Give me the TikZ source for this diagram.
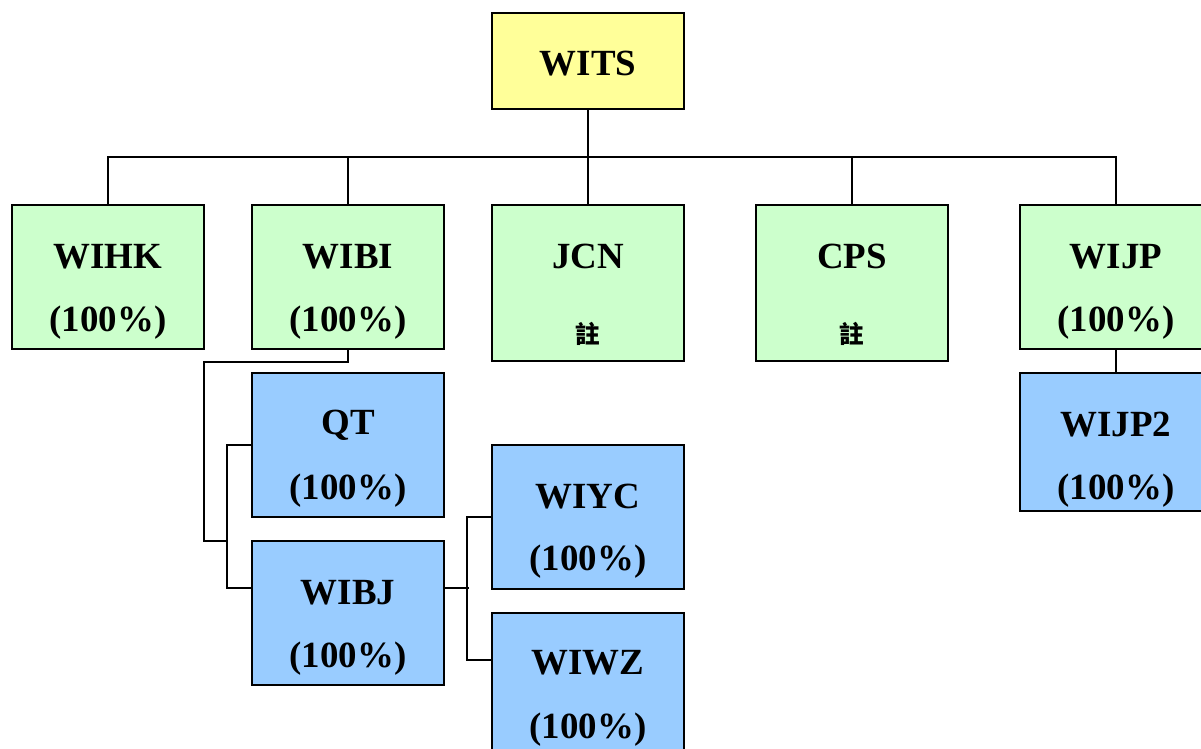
\documentclass[tikz,border=0pt]{standalone}
\usepackage{fontspec}
\setmainfont{Liberation Serif}
\newfontfamily\cjk{Noto Sans CJK TC}
\usetikzlibrary{calc}
\definecolor{topyellow}{HTML}{FFFF99}
\definecolor{subgreen}{HTML}{CCFFCC}
\definecolor{subblue}{HTML}{99CCFF}
\begin{document}
\begin{tikzpicture}[x=0.02cm, y=-0.02cm,
    box/.style={draw, line width=1.2pt, minimum width=3.84cm, minimum height=2.88cm, inner sep=0pt},
    co/.style={font=\bfseries\fontsize{21}{25}\selectfont, inner sep=0pt},
    note/.style={font=\cjk\bfseries\fontsize{14}{16}\selectfont, inner sep=0pt},
    link/.style={line width=1pt}]
            \useasboundingbox (0,0) rectangle (1201,749);
            \clip (0,0) rectangle (1201,749);
            % top
            \node[box, fill=topyellow, minimum height=1.92cm] (WITS) at (588,61) {};
            \node[co] (WITSn) at ($(WITS.north)+(0,52)$) {WITS};
            % second row
            \node[box, fill=subgreen] (WIHK) at (108,277) {};
            \node[co] (WIHKn) at ($(WIHK.north)+(0,53)$) {WIHK};
            \node[co] (WIHKp) at ($(WIHK.north)+(0,119)$) {(100\%)};
            \node[box, fill=subgreen] (WIBI) at (348,277) {};
            \node[co] (WIBIn) at ($(WIBI.north)+(0,53)$) {WIBI};
            \node[co] (WIBIp) at ($(WIBI.north)+(0,119)$) {(100\%)};
            \node[box, fill=subgreen, minimum height=3.12cm] (JCN) at (588,283) {};
            \node[co] (JCNn) at ($(JCN.north)+(0,53)$) {JCN};
            \node[note] (JCNp) at ($(JCN.north)+(0,130)$) {註};
            \node[box, fill=subgreen, minimum height=3.12cm] (CPS) at (852,283) {};
            \node[co] (CPSn) at ($(CPS.north)+(0,53)$) {CPS};
            \node[note] (CPSp) at ($(CPS.north)+(0,130)$) {註};
            \node[box, fill=subgreen] (WIJP) at (1116,277) {};
            \node[co] (WIJPn) at ($(WIJP.north)+(0,53)$) {WIJP};
            \node[co] (WIJPp) at ($(WIJP.north)+(0,119)$) {(100\%)};
            % third level
            \node[box, fill=subblue, minimum height=2.76cm] (WIJP2) at (1116,442) {};
            \node[co] (WIJP2n) at ($(WIJP2.north)+(0,53)$) {WIJP2};
            \node[co] (WIJP2p) at ($(WIJP2.north)+(0,119)$) {(100\%)};
            \node[box, fill=subblue] (QT) at (348,445) {};
            \node[co] (QTn) at ($(QT.north)+(0,53)$) {QT};
            \node[co] (QTp) at ($(QT.north)+(0,119)$) {(100\%)};
            \node[box, fill=subblue] (WIBJ) at (348,613) {};
            \node[co] (WIBJn) at ($(WIBJ.north)+(0,53)$) {WIBJ};
            \node[co] (WIBJp) at ($(WIBJ.north)+(0,119)$) {(100\%)};
            \node[box, fill=subblue] (WIYC) at (588,517) {};
            \node[co] (WIYCn) at ($(WIYC.north)+(0,53)$) {WIYC};
            \node[co] (WIYCp) at ($(WIYC.north)+(0,118)$) {(100\%)};
            \node[box, fill=subblue] (WIWZ) at (588,685) {};
            \node[co] (WIWZn) at ($(WIWZ.north)+(0,51)$) {WIWZ};
            \node[co] (WIWZp) at ($(WIWZ.north)+(0,118)$) {(100\%)};
            % connectors
            \coordinate (bus) at (588,157);
            \coordinate (qtfork) at (228,541);
            \draw[link] (WITS.south) -- (JCN.north);
            \draw[link] (WIHK.north) |- (bus) -| (WIJP.north);
            \draw[link] (WIBI.north) |- (bus);
            \draw[link] (CPS.north) |- (bus);
            \draw[link] (WIJP.south) -- (WIJP2.north);
            \draw[link] (WIBI.south) -- ++(0,12) -| ($(qtfork)+(-24,0)$) -- (qtfork);
            \draw[link] (QT.west) -- ++(-24,0) |- ($(WIBJ.north west)+(0,48)$);
            \draw[link] ($(WIBJ.north east)+(0,48)$) -- ++(24,0);
            \draw[link] (WIYC.west) -- ++(-24,0) |- ($(WIWZ.north west)+(0,48)$);
        \end{tikzpicture}
\end{document}
